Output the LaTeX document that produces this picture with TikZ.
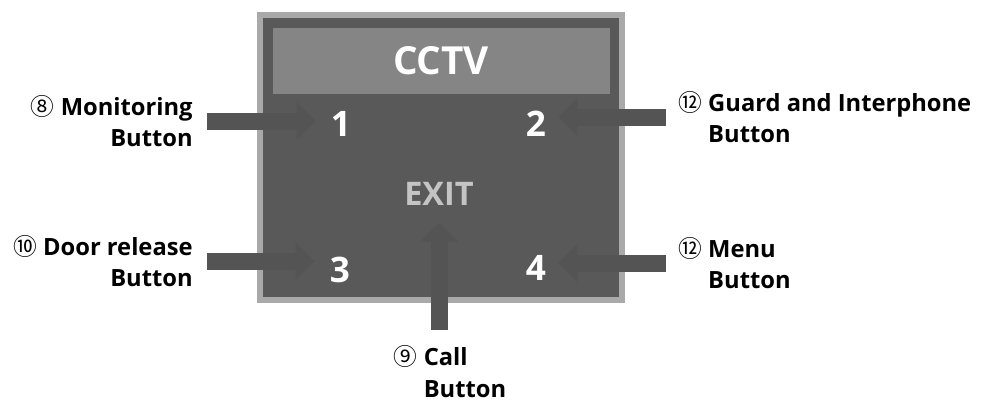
\documentclass[tikz,border=0pt]{standalone}
\usepackage{fontspec}
\setmainfont{Open Sans}
\newfontfamily\circfont{Noto Sans CJK SC}

\usetikzlibrary{arrows.meta}

\definecolor{panelgray}{HTML}{595959}
\definecolor{bordergray}{HTML}{A9A9A9}
\definecolor{bargray}{HTML}{858585}
\definecolor{arrowgray}{HTML}{545454}
\definecolor{exitgray}{HTML}{C4C4C4}

\newcommand{\circnum}[1]{{\circfont\mdseries #1}}

\tikzset{
  keynum/.style={text=white, font=\fontsize{20}{20}\selectfont\bfseries, inner sep=0pt},
  callout/.style={font=\fontsize{13.5}{18}\selectfont\bfseries, inner sep=0pt},
  pointer/.style={draw=arrowgray, line width=0.34cm, -{Triangle[width=0.74cm,length=0.38cm]}}
}

\begin{document}
\begin{tikzpicture}[x=0.02cm, y=-0.02cm]
    \useasboundingbox (0,0) rectangle (982,403);

    % Panel
    \fill[bordergray] (257,12) rectangle (625,303);
    \fill[panelgray] (263,18) rectangle (619,297);

    % Title bar
    \fill[bargray] (273,28) rectangle (610,94);
    \node[keynum, font=\fontsize{22}{22}\selectfont\bfseries] (cctv) at (441,61) {CCTV};

    % Keys
    \node[keynum] (k1) at (341,124) {1};
    \node[keynum] (k2) at (536,124) {2};
    \node[keynum] (k3) at (340,270) {3};
    \node[keynum] (k4) at (536,268) {4};
    \node[keynum, text=exitgray, font=\fontsize{18.5}{18.5}\selectfont\bfseries] (exit) at (439,194) {EXIT};

    % Callouts
    \node[callout, anchor=east, align=right] (monitor) at (193,121) {\circnum{⑧} Monitoring\\Button};
    \node[callout, anchor=east, align=right] (door) at (193,261) {\circnum{⑩} Door release\\Button};
    \node[callout, anchor=west, align=left] (guard) at (678,117) {\circnum{⑫} Guard and Interphone\\\hphantom{\circnum{⑫} }Button};
    \node[callout, anchor=west, align=left] (menu) at (678,263) {\circnum{⑫} Menu\\\hphantom{\circnum{⑫} }Button};
    \node[callout, anchor=north, align=left] (call) at (450,345) {\circnum{⑨} Call\\\hphantom{\circnum{⑨} }Button};

    % Arrows
    \draw[pointer, shorten <=0.28cm, shorten >=0.3cm] (monitor.east) -- (monitor.east -| k1.west);
    \draw[pointer, shorten <=0.28cm, shorten >=0.3cm] (door.east) -- (door.east -| k3.west);
    \draw[pointer, shorten <=0.24cm, shorten >=0.24cm] (guard.west) -- (guard.west -| k2.east);
    \draw[pointer, shorten <=0.24cm, shorten >=0.24cm] (menu.west) -- (menu.west -| k4.east);
    \draw[pointer, shorten <=0.3cm, shorten >=0.34cm] (call.north -| exit.south) -- (exit.south);
\end{tikzpicture}
\end{document}
